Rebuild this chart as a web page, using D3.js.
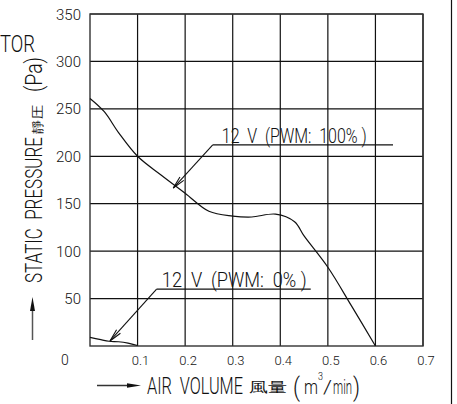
<!DOCTYPE html>
<html>
<head>
<meta charset="utf-8">
<script src="https://cdn.jsdelivr.net/npm/d3@7"></script>
<style>
  html, body { margin: 0; padding: 0; background: #fff; }
  svg text { font-family: Roboto, "Liberation Sans", sans-serif; font-weight: 300; fill: #111; }
</style>
</head>
<body>
<div id="chart"></div>
<script>
// air volume (m3/min) vs static pressure (Pa)
var flow100 = [0, 0.03, 0.06, 0.1, 0.15, 0.2, 0.25, 0.3, 0.34, 0.39, 0.43, 0.45, 0.5, 0.55, 0.6];
var pres100 = [261, 247, 225, 200, 180, 161, 142, 137, 136, 139, 131, 116, 83, 42, 0];

var flow0 = [0, 0.02, 0.04, 0.06, 0.08, 0.1];
var pres0 = [9, 7, 5, 4.5, 3, 0.5];

var xTicks = [0.1, 0.2, 0.3, 0.4, 0.5, 0.6, 0.7];
var yTicks = [50, 100, 150, 200, 250, 300, 350];

var W = 457, H = 404;
var margin = {top: 14, right: 34, bottom: 58, left: 90};
var NB = "\u00a0";

var svg = d3.select("#chart")
            .append("svg")
            .attr("width", W)
            .attr("height", H);

var x = d3.scaleLinear().domain([0, 0.7]).range([margin.left, W - margin.right]);
var y = d3.scaleLinear().domain([0, 350]).range([H - margin.bottom, margin.top]);

//grid
svg.append("g")
   .selectAll("line")
   .data(xTicks)
   .enter()
   .append("line")
   .attr("x1", function(d) { return x(d); })
   .attr("x2", function(d) { return x(d); })
   .attr("y1", y(0))
   .attr("y2", y(350))
   .attr("stroke", "#111")
   .attr("stroke-width", 1.2);

svg.append("g")
   .selectAll("line")
   .data(yTicks)
   .enter()
   .append("line")
   .attr("x1", x(0))
   .attr("x2", x(0.7))
   .attr("y1", function(d) { return y(d); })
   .attr("y2", function(d) { return y(d); })
   .attr("stroke", "#111")
   .attr("stroke-width", 1.2);

//frame of the plot
svg.append("rect")
   .attr("x", x(0))
   .attr("y", y(350))
   .attr("width", x(0.7) - x(0))
   .attr("height", y(0) - y(350))
   .attr("fill", "none")
   .attr("stroke", "#333")
   .attr("stroke-width", 1.4);

//tick labels
svg.append("g")
   .selectAll("text")
   .data(yTicks)
   .enter()
   .append("text")
   .attr("x", x(0) - 9)
   .attr("y", function(d) { return y(d) + 5.5; })
   .attr("text-anchor", "end")
   .style("font-size", "15px")
   .text(function(d) { return d; });

svg.append("g")
   .selectAll("text")
   .data(xTicks)
   .enter()
   .append("text")
   .attr("x", function(d) { return x(d) + 3; })
   .attr("y", y(0) + 19)
   .attr("text-anchor", "middle")
   .style("font-size", "13px")
   .text(function(d) { return d.toFixed(1); });

svg.append("text")
   .attr("x", x(0) - 25)
   .attr("y", y(0) + 19)
   .attr("text-anchor", "middle")
   .style("font-size", "14px")
   .text("0");

//curves
var line = d3.line()
             .x(function(d) { return x(d[0]); })
             .y(function(d) { return y(d[1]); })
             .curve(d3.curveCatmullRom.alpha(0.5));

svg.append("path")
   .datum(d3.zip(flow100, pres100))
   .attr("d", line)
   .attr("fill", "none")
   .attr("stroke", "#111")
   .attr("stroke-width", 1.2);

svg.append("path")
   .datum(d3.zip(flow0, pres0))
   .attr("d", line)
   .attr("fill", "none")
   .attr("stroke", "#111")
   .attr("stroke-width", 1.2);

//text squeezed to a given width (narrow drafting font look)
function fitText(txt, px, py, len, size, rot) {
  var t = svg.append("text")
             .style("font-size", size + "px")
             .text(txt);
  var nat = t.node().getComputedTextLength();
  var sx = len / nat;
  t.attr("transform", "translate(" + px + "," + py + ")" + (rot ? " rotate(-90)" : "") + " scale(" + sx + ",1)");
  return t;
}

//leader with an arrow head at the curve
function leader(fx, fy, tx, ty) {
  var x1 = x(fx), y1 = y(fy), x2 = x(tx), y2 = y(ty);
  svg.append("line")
     .attr("x1", x1).attr("y1", y1)
     .attr("x2", x2).attr("y2", y2)
     .attr("stroke", "#111")
     .attr("stroke-width", 1.1);
  var a = Math.atan2(y1 - y2, x1 - x2), len = 13, sp = 0.2;
  var p1 = [x2 + len * Math.cos(a + sp), y2 + len * Math.sin(a + sp)];
  var p2 = [x2 + len * Math.cos(a - sp), y2 + len * Math.sin(a - sp)];
  svg.append("path")
     .attr("d", "M" + p1 + "L" + x2 + "," + y2 + "L" + p2)
     .attr("fill", "none")
     .attr("stroke", "#111")
     .attr("stroke-width", 1.1);
}

//12 V (PWM: 100%)
svg.append("line")
   .attr("x1", x(0.258)).attr("x2", x(0.637))
   .attr("y1", y(212)).attr("y2", y(212))
   .attr("stroke", "#111").attr("stroke-width", 1.1);
leader(0.258, 212, 0.175, 166.5);
fitText("12" + NB + NB + "V" + NB + NB + "(PWM:" + NB + NB + "100%" + NB + ")", x(0.277), y(214.5), 145, 21);

//12 V (PWM: 0%)
svg.append("line")
   .attr("x1", x(0.14)).attr("x2", x(0.464))
   .attr("y1", y(60)).attr("y2", y(60))
   .attr("stroke", "#111").attr("stroke-width", 1.1);
leader(0.14, 60, 0.042, 5.3);
fitText("12" + NB + NB + "V" + NB + NB + "(PWM:" + NB + NB + "0%" + NB + ")", x(0.151), y(62.5), 145, 21);

//y axis label with arrow
svg.append("line")
   .attr("x1", 32.5).attr("x2", 32.5)
   .attr("y1", 340).attr("y2", 306)
   .attr("stroke", "#555").attr("stroke-width", 1.5);
svg.append("path")
   .attr("d", "M32.5,297L35,311L30,311Z")
   .attr("fill", "#111");

fitText("STATIC" + NB + NB + "PRESSURE", 42, 283, 146, 23, true);
fitText("靜圧", 42, 134, 28, 13, true);
fitText("(Pa)", 42, 92, 35, 23, true);

//x axis label with arrow
svg.append("line")
   .attr("x1", 97).attr("x2", 130)
   .attr("y1", 385.5).attr("y2", 385.5)
   .attr("stroke", "#333").attr("stroke-width", 1.3);
svg.append("path")
   .attr("d", "M141,385.5L127,383.2L127,387.8Z")
   .attr("fill", "#111");

fitText("AIR" + NB + NB + "VOLUME", 147, 394, 96, 24);
fitText("風量", 249, 392, 38, 14);
fitText("(", 293, 396, 7, 25);
fitText("m", 304, 394, 14, 20);
fitText("3", 318, 380, 5, 11);
fitText("/", 323, 393, 9, 18);
fitText("min", 333, 394, 19, 20);
fitText(")", 353, 396, 7, 25);

//clipped title at top left
fitText("TOR", 0, 52, 35, 23);

//right border
svg.append("line")
   .attr("x1", 451.5).attr("x2", 451.5)
   .attr("y1", 0).attr("y2", H)
   .attr("stroke", "#111").attr("stroke-width", 1.2);
</script>
</body>
</html>
